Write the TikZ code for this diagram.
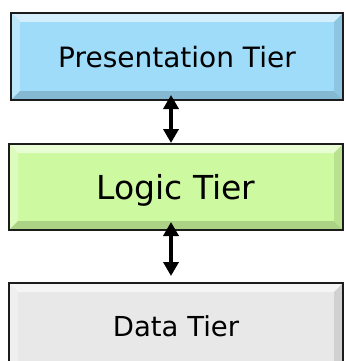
\documentclass[tikz,border=0pt]{standalone}
\usepackage{fontspec}
\setmainfont{DejaVu Sans}
\usetikzlibrary{arrows.meta}
\definecolor{presblue}{RGB}{158,220,250}
\definecolor{logicgreen}{RGB}{205,250,160}
\definecolor{datagray}{RGB}{232,232,232}
\definecolor{edge}{RGB}{28,28,28}
\tikzset{
  tierbox/.style={rectangle, draw=edge, line width=2pt, fill=#1,
    inner sep=0pt, outer sep=0pt, text=black, align=center,
    path picture={
      \fill[#1!45!white] (path picture bounding box.north west) -- (path picture bounding box.north east)
        -- ([shift={(-9pt,-9pt)}]path picture bounding box.north east) -- ([shift={(9pt,-9pt)}]path picture bounding box.north west) -- cycle;
      \fill[#1!70!white] (path picture bounding box.north west) -- ([shift={(9pt,-9pt)}]path picture bounding box.north west)
        -- ([shift={(9pt,9pt)}]path picture bounding box.south west) -- (path picture bounding box.south west) -- cycle;
      \fill[#1!84!black] (path picture bounding box.south west) -- ([shift={(9pt,9pt)}]path picture bounding box.south west)
        -- ([shift={(-9pt,9pt)}]path picture bounding box.south east) -- (path picture bounding box.south east) -- cycle;
      \fill[#1!90!black] (path picture bounding box.south east) -- ([shift={(-9pt,9pt)}]path picture bounding box.south east)
        -- ([shift={(-9pt,-9pt)}]path picture bounding box.north east) -- (path picture bounding box.north east) -- cycle;
    }},
  link/.style={line width=4pt, draw=black, {Triangle[width=15pt,length=14pt]}-{Triangle[width=15pt,length=14pt]}}
}
\begin{document}
\begin{tikzpicture}[x=1pt,y=-1pt]
\useasboundingbox (0,0) rectangle (345,361);
\node[tierbox=presblue, minimum width=332pt, minimum height=87pt, font=\fontsize{28}{32}\selectfont, text depth=0pt]
  (pres) at (177,56.5) {Presentation Tier};
\node[tierbox=logicgreen, minimum width=334pt, minimum height=86pt, font=\fontsize{33}{38}\selectfont, text depth=0pt]
  (logic) at (176,187) {Logic Tier};
\node[tierbox=datagray, minimum width=334pt, minimum height=87pt, font=\fontsize{27.5}{32}\selectfont, text depth=0pt]
  (data) at (176,326.5) {Data Tier};
\draw[link, shorten <=-5pt, shorten >=1pt] ([xshift=-6pt]pres.south) -- ([xshift=-5pt]logic.north);
\draw[link, shorten <=-8pt, shorten >=7pt] ([xshift=-5pt]logic.south) -- ([xshift=-5pt]data.north);
\end{tikzpicture}
\end{document}
